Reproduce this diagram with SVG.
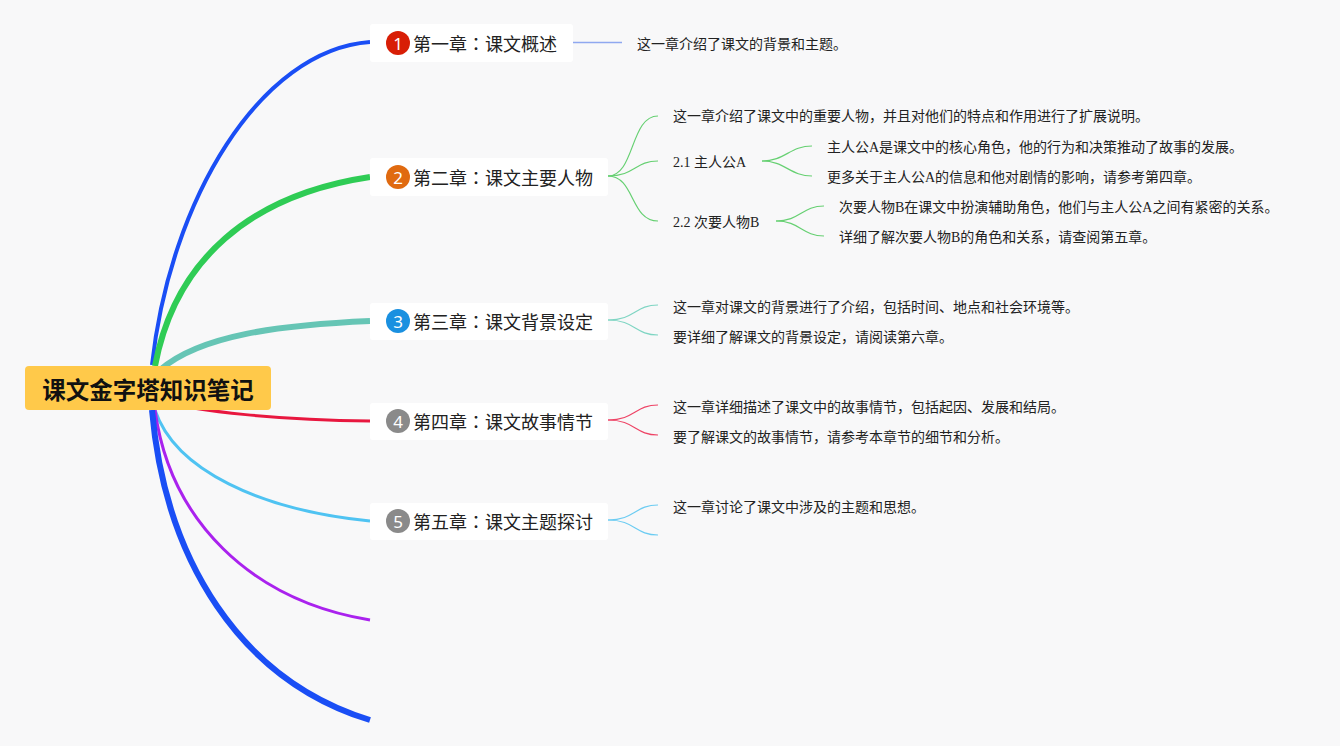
<svg xmlns="http://www.w3.org/2000/svg" width="1340" height="746" viewBox="0 0 1340 746">
<style>
.bg{fill:#f8f8f9}
.main{fill:none;stroke-linecap:butt}
.sub{fill:none;stroke-width:1.2}
.chbox{fill:#ffffff}
.chtxt{font-family:"Noto Sans CJK SC","Noto Sans",sans-serif;font-size:18px;fill:#222}
.colon{font-family:"Noto Sans CJK TC","Noto Sans CJK SC",sans-serif}
.num{font-family:"Noto Sans","Liberation Sans",sans-serif;font-size:17px;fill:#fff;text-anchor:middle}
.det{font-family:"Liberation Serif","Noto Sans CJK SC",serif;font-size:14px;fill:#222}
.root{font-family:"Noto Sans CJK SC",sans-serif;font-size:23.5px;font-weight:bold;fill:#111;text-anchor:middle}
</style>
<rect class="bg" x="0" y="0" width="1340" height="746"/>
<g id="connectors">
  <path class="main" d="M152,365 C170,200 260,50 370,42" stroke="#1a4ef5" stroke-width="4"/>
  <path class="main" d="M155,366 C175,260 250,195 370,177" stroke="#2fcc55" stroke-width="6"/>
  <path class="main" d="M160,370 C200,335 280,325 370,321" stroke="#66c5b5" stroke-width="6"/>
  <path class="main" d="M155,400 C200,412 280,420 370,421" stroke="#e8173f" stroke-width="3"/>
  <path class="main" d="M155,410 C175,470 260,510 370,521" stroke="#4fc3f2" stroke-width="3"/>
  <path class="main" d="M155,410 C170,520 250,600 370,620" stroke="#aa22ee" stroke-width="3"/>
  <path class="main" d="M152,410 C165,560 240,680 370,720" stroke="#1a4ef5" stroke-width="6"/>
  <line x1="573" y1="42.5" x2="622" y2="42.5" stroke="#8fa8f0" stroke-width="1.5"/>
  <g stroke="#66d072">
    <path class="sub" d="M608,176 C635,176 630,116 658,116"/>
    <path class="sub" d="M608,176 C635,176 635,161 658,161"/>
    <path class="sub" d="M608,176 C635,176 630,221 658,221"/>
    <path class="sub" d="M762,161 C785,161 790,146 812,146"/>
    <path class="sub" d="M762,161 C785,161 790,176 812,176"/>
    <path class="sub" d="M776,221 C800,221 802,206 824,206"/>
    <path class="sub" d="M776,221 C800,221 802,236 824,236"/>
  </g>
  <g stroke="#7fd5c3">
    <path class="sub" d="M608,320 C635,320 635,305 658,305"/>
    <path class="sub" d="M608,320 C635,320 635,335 658,335"/>
  </g>
  <g stroke="#ee4466">
    <path class="sub" d="M608,420 C635,420 635,405 658,405"/>
    <path class="sub" d="M608,420 C635,420 635,435 658,435"/>
  </g>
  <g stroke="#6cccf2">
    <path class="sub" d="M608,520 C635,520 635,505 658,505"/>
    <path class="sub" d="M608,520 C635,520 635,535 658,535"/>
  </g>
</g>
<g id="root">
  <rect x="25" y="366" width="246" height="44" rx="4" fill="#ffc94a"/>
  <text class="root" x="148" y="389" dominant-baseline="central">课文金字塔知识笔记</text>
</g>
<g id="ch1">
  <rect class="chbox" x="370" y="24" width="203" height="38" rx="3"/>
  <circle cx="398" cy="43" r="12" fill="#d81e06"/>
  <text class="num" x="398" y="43" dominant-baseline="central">1</text>
  <text class="chtxt" x="413" y="43" dominant-baseline="central">第一章<tspan class="colon">：</tspan>课文概述</text>
</g>
<g id="ch1-d1"><text class="det" x="637" y="44" dominant-baseline="central">这一章介绍了课文的背景和主题。</text></g>
<g id="ch2">
  <rect class="chbox" x="370" y="158" width="238" height="38" rx="3"/>
  <circle cx="398" cy="177" r="12" fill="#e06a10"/>
  <text class="num" x="398" y="177" dominant-baseline="central">2</text>
  <text class="chtxt" x="413" y="177" dominant-baseline="central">第二章<tspan class="colon">：</tspan>课文主要人物</text>
</g>
<g id="ch2-d1"><text class="det" x="673" y="116" dominant-baseline="central">这一章介绍了课文中的重要人物，并且对他们的特点和作用进行了扩展说明。</text></g>
<g id="ch2-1"><text class="det" x="673" y="162" dominant-baseline="central">2.1 主人公A</text></g>
<g id="ch2-1-d1"><text class="det" x="827" y="147" dominant-baseline="central">主人公A是课文中的核心角色，他的行为和决策推动了故事的发展。</text></g>
<g id="ch2-1-d2"><text class="det" x="827" y="177" dominant-baseline="central">更多关于主人公A的信息和他对剧情的影响，请参考第四章。</text></g>
<g id="ch2-2"><text class="det" x="673" y="222" dominant-baseline="central">2.2 次要人物B</text></g>
<g id="ch2-2-d1"><text class="det" x="839" y="207" dominant-baseline="central">次要人物B在课文中扮演辅助角色，他们与主人公A之间有紧密的关系。</text></g>
<g id="ch2-2-d2"><text class="det" x="839" y="237" dominant-baseline="central">详细了解次要人物B的角色和关系，请查阅第五章。</text></g>
<g id="ch3">
  <rect class="chbox" x="370" y="303" width="238" height="37" rx="3"/>
  <circle cx="398" cy="321" r="12" fill="#1a90e0"/>
  <text class="num" x="398" y="321" dominant-baseline="central">3</text>
  <text class="chtxt" x="413" y="321" dominant-baseline="central">第三章<tspan class="colon">：</tspan>课文背景设定</text>
</g>
<g id="ch3-d1"><text class="det" x="673" y="307" dominant-baseline="central">这一章对课文的背景进行了介绍，包括时间、地点和社会环境等。</text></g>
<g id="ch3-d2"><text class="det" x="673" y="337" dominant-baseline="central">要详细了解课文的背景设定，请阅读第六章。</text></g>
<g id="ch4">
  <rect class="chbox" x="370" y="403" width="238" height="37" rx="3"/>
  <circle cx="398" cy="421" r="12" fill="#8a8a8a"/>
  <text class="num" x="398" y="421" dominant-baseline="central">4</text>
  <text class="chtxt" x="413" y="421" dominant-baseline="central">第四章<tspan class="colon">：</tspan>课文故事情节</text>
</g>
<g id="ch4-d1"><text class="det" x="673" y="407" dominant-baseline="central">这一章详细描述了课文中的故事情节，包括起因、发展和结局。</text></g>
<g id="ch4-d2"><text class="det" x="673" y="437" dominant-baseline="central">要了解课文的故事情节，请参考本章节的细节和分析。</text></g>
<g id="ch5">
  <rect class="chbox" x="370" y="503" width="238" height="37" rx="3"/>
  <circle cx="398" cy="521" r="12" fill="#8a8a8a"/>
  <text class="num" x="398" y="521" dominant-baseline="central">5</text>
  <text class="chtxt" x="413" y="521" dominant-baseline="central">第五章<tspan class="colon">：</tspan>课文主题探讨</text>
</g>
<g id="ch5-d1"><text class="det" x="673" y="507" dominant-baseline="central">这一章讨论了课文中涉及的主题和思想。</text></g>
</svg>
